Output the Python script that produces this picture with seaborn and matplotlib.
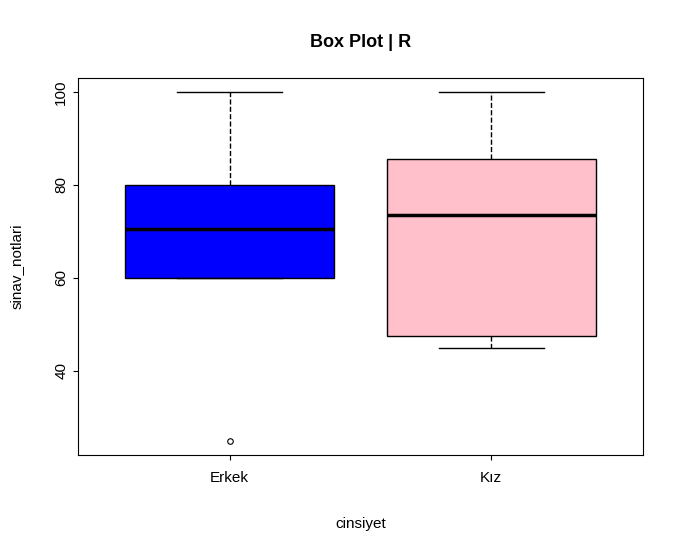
import pandas as pd
import seaborn as sns
import matplotlib.pyplot as plt

plt.rcParams['font.family'] = 'Liberation Sans'

erkek = [25, 60, 60, 60, 70, 71, 80, 80, 80, 100]
kiz = [45, 47.5, 47.5, 47.5, 72, 75, 85.5, 85.5, 85.5, 100]
groups = ['Erkek', 'Kız']
colors = ['blue', 'pink']

df = pd.DataFrame({
    'cinsiyet': ['Erkek'] * len(erkek) + ['Kız'] * len(kiz),
    'sinav_notlari': erkek + kiz,
})

fig = plt.figure(figsize=(6.84, 5.53), dpi=100)
ax = fig.add_axes([78 / 684, 1 - 455 / 553, (643 - 78) / 684, (455 - 78) / 553])
sns.boxplot(data=df, x='cinsiyet', y='sinav_notlari', hue='cinsiyet', order=groups,
            palette=dict(zip(groups, colors)), saturation=1, width=0.8,
            linecolor='black', linewidth=1,
            whiskerprops={'linestyle': '--'},
            medianprops={'linewidth': 2.5},
            flierprops={'marker': 'o', 'markersize': 4, 'markerfacecolor': 'none',
                        'markeredgecolor': 'black', 'markeredgewidth': 0.8},
            ax=ax)
ax.set_xlim(-0.58, 1.58)
ax.set_ylim(21.9, 103)
ax.set_yticks([40, 60, 80, 100])
ax.tick_params(axis='y', labelrotation=90, labelsize=11)
for t in ax.get_yticklabels():
    t.set_va('center')
ax.tick_params(axis='x', labelsize=11, pad=8)
for s in ax.spines.values():
    s.set_color('black')
ax.set_xlabel('cinsiyet', fontsize=11, labelpad=23)
ax.set_ylabel('sinav_notlari', fontsize=11, labelpad=22)
ax.set_title('Box Plot | R', fontsize=13, fontweight='bold', pad=22)
fig.savefig('out.png', dpi=100)
